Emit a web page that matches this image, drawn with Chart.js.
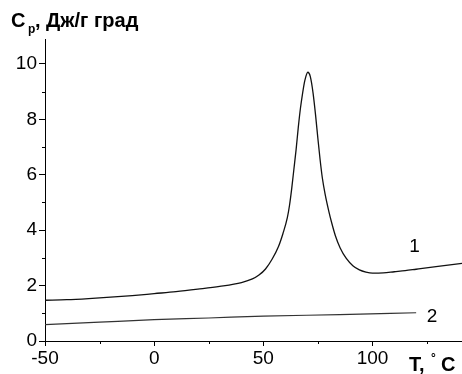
<!DOCTYPE html>
<html>
<head>
<meta charset="utf-8">
<script src="https://cdn.jsdelivr.net/npm/chart.js@4/dist/chart.umd.min.js"></script>
<style>
  html, body { margin: 0; padding: 0; background: #fff; }
</style>
</head>
<body>
<canvas id="cpChart" width="462" height="374"></canvas>
<script>
// Curve 1: Cp vs T (peak near 70 °C)
var curve1T = [-50, -40, -30, -20, -10, 0, 10, 20, 30, 40, 45, 48, 51, 54, 57, 59, 61, 62, 63, 64, 65, 66, 67, 68, 69, 70.4,
    71.5, 72.8, 74, 75, 76, 77, 78.3, 80, 81.4, 83, 85.2, 88, 91, 94, 97, 100, 105, 110, 115, 120, 130, 141];
var curve1Cp = [1.47, 1.49, 1.53, 1.58, 1.64, 1.71, 1.78, 1.87, 1.97, 2.11, 2.24, 2.38, 2.6, 2.95, 3.42, 3.88, 4.45, 4.9, 5.5, 6.2, 6.9, 7.7, 8.4, 8.95, 9.4, 9.70,
    9.55, 8.94, 8.1, 7.3, 6.55, 5.9, 5.3, 4.68, 4.24, 3.8, 3.36, 2.98, 2.72, 2.57, 2.49, 2.45, 2.46, 2.50, 2.54, 2.59, 2.69, 2.80];

// Curve 2: nearly flat
var curve2T = [-50, -25, 0, 25, 50, 85, 120];
var curve2Cp = [0.59, 0.68, 0.77, 0.83, 0.90, 0.95, 1.02];

var xTicks = [-50, 0, 50, 100];
var xMinorTicks = [-25, 25, 75, 125];
var yTicks = [0, 2, 4, 6, 8, 10];
var yMinorTicks = [1, 3, 5, 7, 9];

var FONT = "'Liberation Sans', Arial, sans-serif";

function toPoints(xs, ys) {
    return xs.map(function (x, i) { return { x: x, y: ys[i] }; });
}

// minor ticks + text labels
var extrasPlugin = {
    id: "extras",
    afterDraw: function (chart) {
        var ctx = chart.ctx;
        var xs = chart.scales.x;
        var ys = chart.scales.y;
        var area = chart.chartArea;
        ctx.save();
        ctx.strokeStyle = "#000";
        ctx.lineWidth = 1;
        yMinorTicks.forEach(function (v) {
            var py = Math.round(ys.getPixelForValue(v)) + 0.5;
            ctx.beginPath();
            ctx.moveTo(area.left - 3, py);
            ctx.lineTo(area.left, py);
            ctx.stroke();
        });
        xMinorTicks.forEach(function (v) {
            var px = Math.round(xs.getPixelForValue(v)) + 0.5;
            ctx.beginPath();
            ctx.moveTo(px, area.bottom);
            ctx.lineTo(px, area.bottom + 3);
            ctx.stroke();
        });

        ctx.fillStyle = "#000";
        ctx.textBaseline = "alphabetic";
        ctx.textAlign = "left";

        // y axis title
        ctx.font = "bold 20px " + FONT;
        ctx.fillText("C", 11, 27);
        ctx.font = "bold 12px " + FONT;
        ctx.fillText("p", 28, 33);
        ctx.font = "bold 20px " + FONT;
        ctx.fillText(", Дж/г град", 35, 27);

        // x axis title
        ctx.font = "bold 20px " + FONT;
        ctx.fillText("T,", 409, 371);
        ctx.font = "bold 12px " + FONT;
        ctx.fillText("°", 431, 362);
        ctx.font = "bold 20px " + FONT;
        ctx.fillText("C", 441, 371);

        // curve labels
        ctx.font = "19px " + FONT;
        ctx.fillText("1", xs.getPixelForValue(116.8), ys.getPixelForValue(3.2));
        ctx.fillText("2", xs.getPixelForValue(124.8), ys.getPixelForValue(0.7));
        ctx.restore();
    }
};

var chart = new Chart(document.getElementById("cpChart"), {
    type: "line",
    data: {
        datasets: [
            {
                label: "1",
                data: toPoints(curve1T, curve1Cp),
                borderColor: "#111",
                borderWidth: 1.3,
                pointRadius: 0,
                cubicInterpolationMode: "monotone",
                fill: false,
            },
            {
                label: "2",
                data: toPoints(curve2T, curve2Cp),
                borderColor: "#333",
                borderWidth: 1.2,
                pointRadius: 0,
                cubicInterpolationMode: "monotone",
                fill: false,
            },
        ],
    },
    options: {
        responsive: false,
        animation: false,
        layout: { padding: { top: 39, right: 0, left: 0, bottom: 0 } },
        plugins: {
            legend: { display: false },
            tooltip: { enabled: false },
        },
        scales: {
            x: {
                type: "linear",
                min: -50,
                max: 141,
                afterBuildTicks: function (scale) {
                    scale.ticks = xTicks.map(function (v) { return { value: v }; });
                },
                afterFit: function (scale) { scale.height = 33; },
                border: { color: "#000", width: 1 },
                grid: { drawOnChartArea: false, color: "#000", tickLength: 5 },
                ticks: {
                    color: "#000",
                    padding: 1,
                    maxRotation: 0,
                    font: { family: FONT, size: 19 },
                },
            },
            y: {
                type: "linear",
                min: 0,
                max: 10.9,
                afterBuildTicks: function (scale) {
                    scale.ticks = yTicks.map(function (v) { return { value: v }; });
                },
                afterFit: function (scale) { scale.width = 45; },
                border: { color: "#000", width: 1 },
                grid: { drawOnChartArea: false, color: "#000", tickLength: 6 },
                ticks: {
                    color: "#000",
                    padding: 2,
                    font: { family: FONT, size: 19 },
                },
            },
        },
    },
    plugins: [extrasPlugin],
});
</script>
</body>
</html>
